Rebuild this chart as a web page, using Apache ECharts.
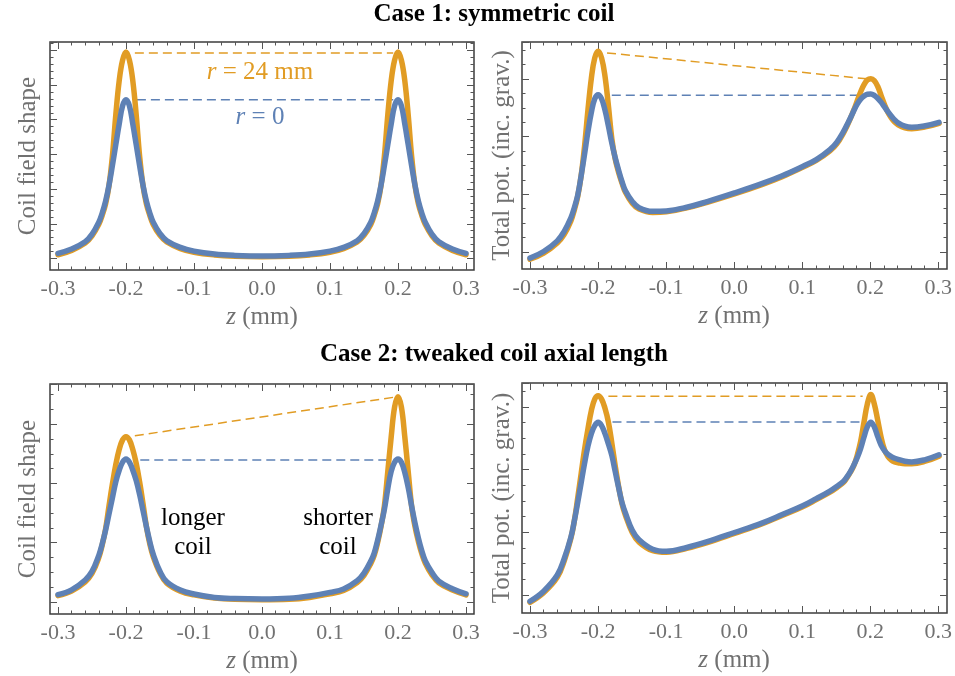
<!DOCTYPE html>
<html>
<head>
<meta charset="utf-8">
<script src="https://cdn.jsdelivr.net/npm/echarts@6/dist/echarts.min.js"></script>
<style>
  html, body { margin: 0; padding: 0; background: #fff; }
  #chart { width: 955px; height: 676px; }
</style>
</head>
<body>
<div id="chart"></div>
<script>
// sample positions along the axis, z in mm (denser around the coil peaks)
const zs = [-0.3, -0.28, -0.26, -0.25, -0.24, -0.235, -0.23, -0.225, -0.22, -0.215, -0.21, -0.205, -0.2, -0.195, -0.19, -0.185, -0.18, -0.175, -0.17, -0.165, -0.16, -0.15, -0.14, -0.12, -0.1, -0.07, -0.04, 0,
            0.04, 0.07, 0.1, 0.12, 0.14, 0.15, 0.16, 0.165, 0.17, 0.175, 0.18, 0.185, 0.19, 0.195, 0.2, 0.205, 0.21, 0.215, 0.22, 0.225, 0.23, 0.235, 0.24, 0.25, 0.26, 0.28, 0.3];
const xTicks = [-0.3, -0.2, -0.1, 0.0, 0.1, 0.2, 0.3];

// case 1, coil field shape (arbitrary units, 0 = frame bottom, 1 = frame top)
const fieldBlue1 = [.073, .092, .124, .157, .21, .25, .302, .372, .458, .55, .64, .72, .747, .72, .64, .55, .458, .372, .302, .25, .21, .16, .128, .099, .083, .07, .064, .061,
                    .064, .07, .083, .099, .128, .16, .21, .25, .302, .372, .458, .55, .64, .72, .747, .72, .64, .55, .458, .372, .302, .25, .21, .157, .124, .092, .073];
const fieldOrange1 = [.067, .086, .118, .15, .2, .24, .29, .37, .50, .68, .83, .92, .956, .92, .83, .68, .50, .37, .29, .24, .2, .152, .123, .094, .078, .066, .060, .058,
                      .060, .066, .078, .094, .123, .152, .2, .24, .29, .37, .50, .68, .83, .92, .956, .92, .83, .68, .50, .37, .29, .24, .2, .15, .118, .086, .067];
// case 1, total potential
const potBlue1 = [.048, .077, .124, .165, .225, .27, .325, .41, .505, .605, .69, .75, .768, .75, .70, .63, .555, .49, .435, .385, .345, .298, .27, .254, .256, .272, .297, .335,
                  .376, .411, .452, .482, .526, .558, .606, .635, .665, .697, .726, .748, .762, .77, .771, .765, .752, .735, .714, .693, .674, .657, .644, .629, .624, .631, .646];
const potOrange1 = [.043, .07, .115, .152, .212, .26, .32, .41, .54, .70, .84, .93, .959, .93, .85, .72, .575, .485, .425, .378, .338, .29, .264, .249, .252, .269, .294, .331,
                    .372, .407, .448, .478, .52, .551, .60, .63, .663, .70, .74, .78, .812, .833, .838, .83, .805, .765, .725, .69, .665, .647, .635, .622, .618, .626, .642];
// case 2, coil field shape
const fieldBlue2 = [.084, .105, .148, .185, .255, .305, .365, .435, .505, .575, .625, .66, .674, .66, .625, .58, .52, .45, .38, .315, .26, .185, .14, .104, .087, .072, .067, .065,
                    .068, .078, .094, .109, .145, .178, .23, .265, .32, .385, .455, .545, .62, .66, .674, .66, .615, .55, .47, .395, .33, .275, .232, .18, .143, .11, .088];
const fieldOrange2 = [.08, .1, .14, .176, .245, .3, .37, .47, .565, .65, .715, .757, .771, .757, .715, .655, .575, .48, .38, .305, .25, .178, .134, .099, .083, .07, .064, .062,
                      .064, .072, .088, .102, .137, .168, .22, .255, .31, .38, .47, .62, .77, .9, .945, .9, .77, .62, .47, .38, .315, .262, .222, .17, .136, .104, .083];
// case 2, total potential
const potBlue2 = [.051, .095, .165, .235, .33, .4, .48, .565, .65, .725, .78, .815, .829, .815, .78, .735, .685, .615, .545, .48, .435, .36, .318, .277, .268, .285, .31, .35,
                  .391, .428, .466, .497, .53, .55, .573, .592, .615, .643, .675, .715, .765, .81, .829, .81, .768, .73, .706, .69, .68, .673, .668, .66, .657, .667, .688];
const potOrange2 = [.046, .088, .155, .225, .325, .4, .5, .605, .71, .8, .88, .93, .945, .93, .89, .83, .74, .64, .55, .475, .425, .35, .308, .271, .264, .281, .306, .346,
                    .387, .424, .462, .493, .525, .545, .568, .588, .612, .64, .685, .745, .83, .91, .95, .91, .84, .765, .71, .68, .665, .657, .653, .649, .649, .66, .682];

// peak-to-peak guide lines [z, value]
const dashOrange1 = [[-0.187, 0.952], [0.193, 0.952]];
const dashBlue1 = [[-0.184, 0.747], [0.193, 0.747]];
const dashOrange2 = [[-0.187, 0.952], [0.197, 0.837]];
const dashBlue2 = [[-0.18, 0.765], [0.197, 0.765]];
const dashOrange3 = [[-0.187, 0.775], [0.193, 0.942]];
const dashBlue3 = [[-0.179, 0.67], [0.186, 0.67]];
const dashOrange4 = [[-0.185, 0.942], [0.188, 0.942]];
const dashBlue4 = [[-0.179, 0.83], [0.186, 0.83]];

const ORANGE = '#E19C24';
const BLUE = '#5E81B5';
const GREY = '#717171';
const FONT = '"Liberation Serif", "Times New Roman", serif';

const panels = [
    { rect: [50, 42, 424, 228], yName: 'Coil field shape', blue: fieldBlue1, orange: fieldOrange1, dashO: dashOrange1, dashB: dashBlue1, yt: [11.5, 34.7, 5] },
    { rect: [522, 42, 425, 227], yName: 'Total pot. (inc. grav.)', blue: potBlue1, orange: potOrange1, dashO: dashOrange2, dashB: dashBlue2, yt: [17, 57.7, 4] },
    { rect: [50, 384, 424, 230], yName: 'Coil field shape', blue: fieldBlue2, orange: fieldOrange2, dashO: dashOrange3, dashB: dashBlue3, yt: [12, 59.3, 4] },
    { rect: [522, 383, 425, 230], yName: 'Total pot. (inc. grav.)', blue: potBlue2, orange: potOrange2, dashO: dashOrange4, dashB: dashBlue4, yt: [18, 62.7, 4] }
];

const grid = [], xAxis = [], yAxis = [], series = [];
const tickStyle = { color: '#555', width: 1 };
const hidden = { show: false };

panels.forEach(p => {
    const [left, top, width, height] = p.rect;
    const pad = 8;
    const padU = 0.6 * pad / (width - 2 * pad);

    // frame grid that holds the data
    const g0 = grid.length;
    grid.push({ left, top, width, height, show: true, borderColor: '#3c3c3c', borderWidth: 1.5 });
    const xi = xAxis.length, yi = yAxis.length;
    xAxis.push({ gridIndex: g0, type: 'value', min: -0.3 - padU, max: 0.3 + padU, show: false });
    yAxis.push({
        gridIndex: g0, type: 'value', min: 0, max: 1,
        axisLine: hidden, axisTick: hidden, axisLabel: hidden, splitLine: hidden,
        name: p.yName, nameLocation: 'middle', nameRotate: 90, nameGap: left > 300 ? 7 : 9,
        nameTextStyle: { fontFamily: FONT, fontSize: 25, color: GREY }
    });

    // x ticks and labels
    const g1 = grid.length;
    grid.push({ left: left + pad, top, width: width - 2 * pad, height });
    const xTickAxis = pos => ({
        gridIndex: g1, type: 'value', min: xTicks[0], max: xTicks[xTicks.length - 1], interval: 0.1, position: pos,
        axisLine: hidden, splitLine: hidden,
        axisTick: { inside: true, length: 7, lineStyle: tickStyle },
        minorTick: { show: true, splitNumber: 5, length: 3.5, lineStyle: tickStyle },
        axisLabel: pos === 'bottom'
            ? { fontFamily: FONT, fontSize: 22, color: GREY, margin: 8, formatter: v => v.toFixed(1) }
            : hidden
    });
    const xb = xTickAxis('bottom');
    xb.name = '{i|z} (mm)';
    xb.nameLocation = 'middle';
    xb.nameGap = 35;
    xb.nameTextStyle = {
        fontFamily: FONT, fontSize: 25, color: GREY,
        rich: { i: { fontFamily: FONT, fontSize: 25, color: GREY, fontStyle: 'italic' } }
    };
    xAxis.push(xb, xTickAxis('top'));
    yAxis.push({ gridIndex: g1, type: 'value', show: false });

    // y ticks (no labels)
    const [off, step, split] = p.yt;
    const g2 = grid.length;
    grid.push({ left, top, width, height: height - off });
    const yTickAxis = pos => ({
        gridIndex: g2, type: 'value', min: 0, max: (height - off) / step, interval: 1, position: pos,
        axisLine: hidden, splitLine: hidden, axisLabel: hidden,
        axisTick: { inside: true, length: 7, lineStyle: tickStyle },
        minorTick: { show: true, splitNumber: split, length: 3.5, lineStyle: tickStyle }
    });
    yAxis.push(yTickAxis('left'), yTickAxis('right'));
    xAxis.push({ gridIndex: g2, type: 'value', show: false });

    const curve = (vals, color) => ({
        type: 'line', xAxisIndex: xi, yAxisIndex: yi, clip: false, silent: true,
        data: zs.map((z, k) => [z, vals[k]]), smooth: 0.4, symbol: 'none',
        lineStyle: { color, width: 5.5, cap: 'round', join: 'round' }
    });
    const dash = (pts, color) => ({
        type: 'line', xAxisIndex: xi, yAxisIndex: yi, clip: false, silent: true,
        data: pts, symbol: 'none',
        lineStyle: { color, width: 1.5, type: [9, 5] }
    });
    series.push(dash(p.dashO, ORANGE), dash(p.dashB, BLUE), curve(p.orange, ORANGE), curve(p.blue, BLUE));
});

const txt = (x, y, text, extra) => ({
    type: 'text', x, y, silent: true,
    style: Object.assign({ text, fontFamily: FONT, fontSize: 25, fill: '#000', align: 'center', verticalAlign: 'middle' }, extra)
});
const italicR = color => ({ i: { fontStyle: 'italic', fontFamily: FONT, fontSize: 25, fill: color } });

const chart = echarts.init(document.getElementById('chart'));
chart.setOption({
    animation: false,
    backgroundColor: '#fff',
    grid, xAxis, yAxis, series,
    graphic: [
        txt(494, 15, 'Case 1: symmetric coil', { fontWeight: 'bold', fontSize: 25 }),
        txt(494, 355, 'Case 2: tweaked coil axial length', { fontWeight: 'bold', fontSize: 25 }),
        txt(260, 72, '{i|r} = 24 mm', { fill: ORANGE, rich: italicR(ORANGE) }),
        txt(260, 117, '{i|r} = 0', { fill: BLUE, rich: italicR(BLUE) }),
        txt(193, 518, 'longer'),
        txt(193, 547, 'coil'),
        txt(338, 518, 'shorter'),
        txt(338, 547, 'coil')
    ]
});
</script>
</body>
</html>
